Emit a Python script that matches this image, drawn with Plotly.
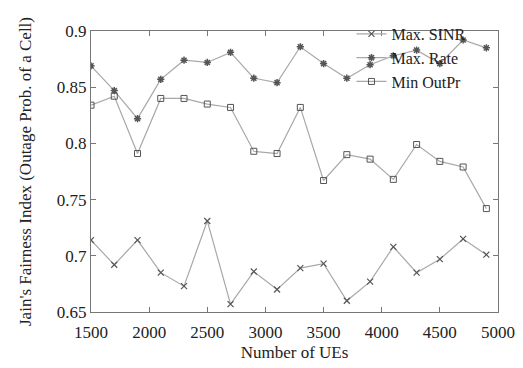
import plotly.graph_objects as go

num_ues = [1500, 1700, 1900, 2100, 2300, 2500, 2700, 2900, 3100,
           3300, 3500, 3700, 3900, 4100, 4300, 4500, 4700, 4900]

max_sinr = [0.714, 0.692, 0.714, 0.685, 0.673, 0.731, 0.657, 0.686, 0.670,
            0.689, 0.693, 0.660, 0.677, 0.708, 0.685, 0.697, 0.715, 0.701]

max_rate = [0.869, 0.847, 0.822, 0.857, 0.874, 0.872, 0.881, 0.858, 0.854,
            0.886, 0.871, 0.858, 0.870, 0.878, 0.883, 0.871, 0.892, 0.885]

min_outpr = [0.834, 0.842, 0.791, 0.840, 0.840, 0.835, 0.832, 0.793, 0.791,
             0.832, 0.767, 0.790, 0.786, 0.768, 0.799, 0.784, 0.779, 0.742]

x_ticks = [1500, 2000, 2500, 3000, 3500, 4000, 4500, 5000]
y_ticks = [0.65, 0.7, 0.75, 0.8, 0.85, 0.9]
y_tick_labels = ["0.65", "0.7", "0.75", "0.8", "0.85", "0.9"]

FONT = "Liberation Serif"
LINE_C = "#a8a8a8"
MARK_C = "#555555"
TEXT_C = "#222222"

fig = go.Figure()
fig.add_trace(go.Scatter(
    x=num_ues, y=max_sinr, name="Max. SINR", mode="lines+markers",
    line=dict(color=LINE_C, width=1.2),
    marker=dict(symbol="x-thin-open", size=6, color=MARK_C,
                line=dict(color=MARK_C, width=1.2)),
))
fig.add_trace(go.Scatter(
    x=num_ues, y=max_rate, name="Max. Rate", mode="lines+markers",
    line=dict(color=LINE_C, width=1.2),
    marker=dict(symbol="asterisk-open", size=6, color=MARK_C,
                line=dict(color=MARK_C, width=1.5)),
))
fig.add_trace(go.Scatter(
    x=num_ues, y=min_outpr, name="Min OutPr", mode="lines+markers",
    line=dict(color=LINE_C, width=1.2),
    marker=dict(symbol="square-open", size=6, color=MARK_C,
                line=dict(color=MARK_C, width=1)),
))

axis_common = dict(
    showgrid=False, zeroline=False, showline=True, linecolor="#777777",
    linewidth=1, mirror="ticks", ticks="inside", ticklen=5,
    tickcolor="#777777", automargin=False,
    tickfont=dict(family=FONT, size=17, color=TEXT_C),
)

# The page body has an 8px default margin, so the figure is sized to fit the window.
fig.update_layout(
    width=515, height=360,
    margin=dict(l=83, r=25, t=9, b=56),
    paper_bgcolor="white", plot_bgcolor="white",
    font=dict(family=FONT, size=17, color=TEXT_C),
    xaxis=dict(range=[1500, 5000], tickvals=x_ticks, ticklabelstandoff=5,
               title=dict(text="Number of UEs",
                          font=dict(family=FONT, size=17, color=TEXT_C),
                          standoff=4),
               **axis_common),
    yaxis=dict(range=[0.65, 0.9], tickvals=y_ticks, ticktext=y_tick_labels,
               title=dict(text="Jain's Fairness Index (Outage Prob. of a Cell)",
                          font=dict(family=FONT, size=17, color=TEXT_C),
                          standoff=20),
               **axis_common),
    legend=dict(x=0.64, y=1.05, xanchor="left", yanchor="top",
                bgcolor="rgba(0,0,0,0)", borderwidth=0,
                font=dict(family=FONT, size=16, color=TEXT_C),
                tracegroupgap=0, itemwidth=30),
    showlegend=True,
)

fig.write_html("out.html")
